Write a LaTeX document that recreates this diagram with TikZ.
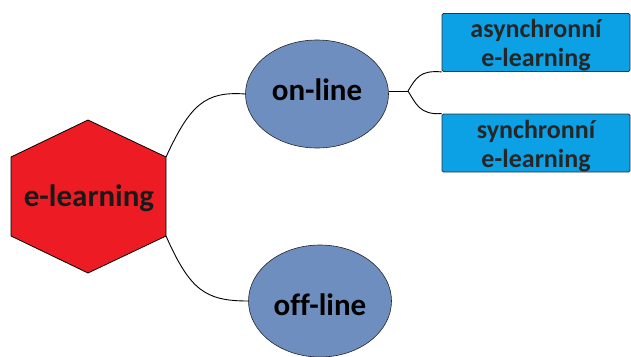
\documentclass[tikz,border=0pt]{standalone}
\usepackage{fontspec}
\setmainfont[Ligatures=NoCommon]{Carlito}
\usetikzlibrary{shapes.geometric}
\definecolor{hexred}{RGB}{237,28,36}
\definecolor{ellblue}{RGB}{110,142,192}
\definecolor{boxblue}{RGB}{12,160,228}
\newcommand{\shiftby}[2]{\raisebox{#1}[\height][\depth]{#2}}
\newcommand{\boxtext}[2]{\shiftby{-4pt}{\begin{tabular}{@{}c@{}}#1\\#2\end{tabular}}}
\tikzset{
  conn/.style={draw=black, line width=0.9pt},
  ellnode/.style={ellipse, draw=black!85, line width=0.6pt, fill=ellblue, minimum width=143pt, minimum height=108pt, inner sep=0pt, font=\fontsize{31}{34}\selectfont\bfseries},
  boxnode/.style={rectangle, rounded corners=1.5pt, draw=black!80, line width=0.8pt, fill=boxblue, minimum width=188pt, minimum height=57pt, inner sep=0pt, align=center, font=\fontsize{26}{29}\selectfont\bfseries, text=black!85},
  hexshape/.style={draw=black, line width=0.8pt, fill=hexred}
}
\begin{document}
\begin{tikzpicture}[x=1pt,y=-1pt]
\useasboundingbox (0,0) rectangle (631,356);
\clip (0,0) rectangle (631,356);
% hexagon
\coordinate (ht) at (88,120);
\coordinate (hur) at (166,157);
\coordinate (hlr) at (166,236);
\coordinate (hb) at (88,273);
\coordinate (hll) at (11,236);
\coordinate (hul) at (11,157);
\path[hexshape] (ht) -- (hur) -- (hlr) -- (hb) -- (hll) -- (hul) -- cycle;
\node[font=\fontsize{31}{34}\selectfont\bfseries, text=black!90] (elearn) at (89,198) {e-learning};
% ellipses
\node[ellnode] (online) at (317,94) {\shiftby{4pt}{on-line}};
\node[ellnode, minimum height=112pt] (offline) at (320,301) {\shiftby{-4pt}{off-line}};
% boxes
\node[boxnode] (async) at (536,42.5) {\boxtext{asynchronní}{e-learning}};
\node[boxnode] (sync) at (536,143) {\boxtext{synchronní}{e-learning}};
% connectors
\draw[conn] (hur) .. controls (190,105) and (205,91) .. (online.west);
\draw[conn] (hlr) .. controls (190,290) and (205,301) .. (offline.west);
\coordinate (junc) at (408,91);
\draw[conn] (online.east |- junc) -- (junc);
\draw[conn] (junc) .. controls (416,78) and (420,70) .. (async.south west);
\draw[conn] (junc) .. controls (416,104) and (420,115) .. (sync.north west);
\end{tikzpicture}
\end{document}
